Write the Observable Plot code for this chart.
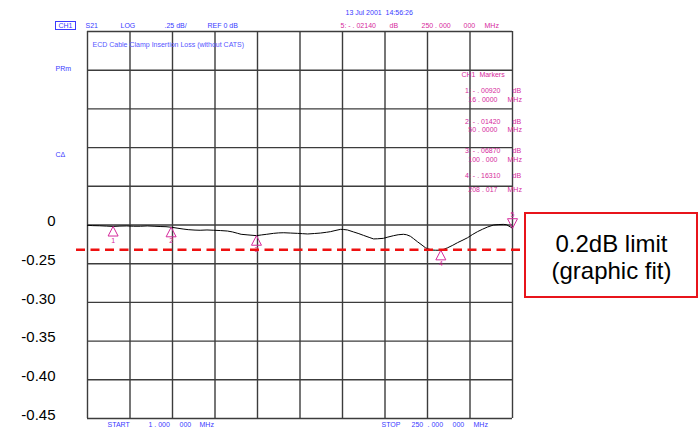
<!DOCTYPE html>
<html><head><meta charset="utf-8">
<script src="https://cdn.jsdelivr.net/npm/d3@7"></script>
<script src="https://cdn.jsdelivr.net/npm/@observablehq/plot@0.6"></script>
<style>html,body{margin:0;padding:0;background:#fff;}</style>
</head><body><div id="chart"></div>
<script>
// ---- data ----
const traceFreq = [1,4,8,12,16,20,24,28,32,36,40,44,47,50,54,57,60,64,67,71,75,79,83,86,89,91,95,100,103,106,110,113,116,120,124,127,130,134,137.5,141,143.4,146,149.3,151,153.3,156.9,160,162.7,166,168.6,171,174.4,177,180.3,183,186.1,188,190.2,192,194.3,197,199,201,203.1,205,208,210,212,215,217.8,221,223.7,226.5,229.5,232.5,235.4,238.9,242,244.7,246.5,247.7,249,250];
const traceDb = [-0.002,-0.004,-0.005,-0.007,-0.0092,-0.007,-0.006,-0.008,-0.008,-0.006,-0.008,-0.010,-0.011,-0.0142,-0.021,-0.026,-0.030,-0.033,-0.034,-0.032,-0.034,-0.036,-0.039,-0.045,-0.054,-0.060,-0.064,-0.0687,-0.064,-0.060,-0.054,-0.051,-0.050,-0.052,-0.054,-0.056,-0.058,-0.055,-0.052,-0.047,-0.043,-0.036,-0.028,-0.029,-0.032,-0.045,-0.056,-0.067,-0.080,-0.090,-0.089,-0.086,-0.078,-0.069,-0.063,-0.060,-0.063,-0.073,-0.088,-0.108,-0.130,-0.147,-0.156,-0.162,-0.163,-0.1631,-0.156,-0.147,-0.131,-0.114,-0.097,-0.082,-0.062,-0.043,-0.027,-0.013,0.000,0.003,0.004,0.002,-0.006,-0.014,-0.0214];
const markerFreq = [16, 50, 100, 208.017, 250];
const markerDb = [-0.0092, -0.0142, -0.0687, -0.1631, -0.0214];
const markerNum = ["1","2","3","4","5"];
const markerDbText = ["1: - . 00920","2: - . 01420","3: - . 06870","4: - . 16310"];
const markerMHzText = ["16 . 0000","50 . 0000","100 . 000","208 . 017"];
const yTickValues = [0, -0.25, -0.5, -0.75, -1, -1.25];
const yTickLabels = ["0","-0.25","-0.30","-0.35","-0.40","-0.45"];
const limitDb = -0.16;
const limitText = ["0.2dB limit", "(graphic fit)"];
const startFreq = 1, stopFreq = 250, dbPerDiv = 0.25, divisions = 10;
const headerTexts = ["CH1","S21","LOG",".25 dB/","REF 0 dB"];
const stimTexts = ["5: - . 02140","dB","250 . 000","000","MHz"];
const startTexts = ["START","1 . 000","000","MHz"];
const stopTexts = ["STOP","250",". 000","000","MHz"];
const dateText = "13 Jul 2001  14:56:26";
const titleText = "ECD Cable Clamp Insertion Loss (without CATS)";

// ---- layout ----
const W = 699, H = 429, ML = 87, MR = 187, MT = 31, MB = 11;
const BLUE = "#3a3aff", MAG = "#d62a9c", GRID = "#3c3c3c";
const FONT = "Liberation Sans, Arial, Helvetica, sans-serif";

const trace = traceFreq.map((f, i) => ({f, db: traceDb[i]}));
const markers = markerFreq.map((f, i) => ({f, db: markerDb[i], n: markerNum[i]}));
const xGrid = d3.range(divisions + 1).map(i => startFreq + i * (stopFreq - startFreq) / divisions);
const yGrid = d3.range(divisions + 1).map(i => -dbPerDiv * divisions / 2 + i * dbPerDiv);

const at = (text, x, y, o = {}) => Plot.text([text], {
  frameAnchor: "top-left", dx: x - ML, dy: y - MT, textAnchor: "start", lineAnchor: "middle",
  fontSize: 7, fill: BLUE, ...o
});

const upTri = {draw(ctx, size) { const r = Math.sqrt(size / Math.PI); const w = 1.25 * r, h = 2.4 * r;
  ctx.moveTo(0, 0); ctx.lineTo(w, h); ctx.lineTo(-w, h); ctx.closePath(); }};
const downTri = {draw(ctx, size) { const r = Math.sqrt(size / Math.PI); const w = 1.25 * r, h = 2.4 * r;
  ctx.moveTo(0, 0); ctx.lineTo(w, -h); ctx.lineTo(-w, -h); ctx.closePath(); }};

const box = (x, y, w, h, stroke, sw, fill) => () => d3.create("svg:rect").attr("x", x).attr("y", y)
  .attr("width", w).attr("height", h).attr("fill", fill).attr("stroke", stroke).attr("stroke-width", sw).node();

const chart = Plot.plot({
  width: W, height: H, marginLeft: ML, marginRight: MR, marginTop: MT, marginBottom: MB,
  x: {domain: [startFreq, stopFreq], axis: null},
  y: {domain: [-dbPerDiv * divisions / 2, dbPerDiv * divisions / 2], axis: null},
  style: {fontFamily: FONT, background: "white", overflow: "visible"},
  marks: [
    Plot.ruleX(xGrid, {stroke: GRID, strokeWidth: 1.4}),
    Plot.ruleY(yGrid, {stroke: GRID, strokeWidth: 1.4}),
    Plot.line(trace, {x: "f", y: "db", stroke: "black", strokeWidth: 1}),
    Plot.dot(markers.slice(0, 4), {x: "f", y: "db", symbol: upTri, r: 4, stroke: MAG, strokeWidth: 1, fill: "none"}),
    Plot.dot(markers.slice(4), {x: "f", y: "db", symbol: downTri, r: 4, stroke: MAG, strokeWidth: 1, fill: "none"}),
    Plot.text(markers.slice(0, 4), {x: "f", y: "db", text: "n", dy: 14, fill: MAG, fontSize: 7}),
    Plot.text(markers.slice(4), {x: "f", y: "db", text: "n", dy: -14, fill: MAG, fontSize: 7}),
    Plot.ruleY([limitDb], {stroke: "#ee1111", strokeWidth: 2.5, strokeDasharray: "9,5.5", insetLeft: -11, insetRight: -13}),
    Plot.text(yTickValues, {y: d => d, text: (d, i) => yTickLabels[i], frameAnchor: "left", dx: -32, dy: -3.5,
      textAnchor: "end", fontSize: 15, fill: "black"}),
    // annotation box
    box(525, 213, 172, 84, "#e8141b", 2, "white"),
    at(limitText[0], 611, 244, {textAnchor: "middle", fontSize: 24, fill: "black"}),
    at(limitText[1], 611, 271, {textAnchor: "middle", fontSize: 24, fill: "black"}),
    // header
    box(55.5, 21.5, 20, 8, BLUE, 1, "none"),
    at(headerTexts[0], 58, 25.5),
    at(headerTexts[1], 85, 25.5),
    at(headerTexts[2], 120, 25.5),
    at(headerTexts[3], 164, 25.5),
    at(headerTexts[4], 207, 25.5),
    at(stimTexts[0], 340, 25.5, {fill: MAG}),
    at(stimTexts[1], 389, 25.5, {fill: MAG}),
    at(stimTexts[2], 421, 25.5, {fill: MAG}),
    at(stimTexts[3], 463, 25.5, {fill: MAG}),
    at(stimTexts[4], 484, 25.5, {fill: MAG}),
    at(dateText, 345, 12),
    at("(", 251, -16, {fontSize: 24, fill: "black"}),
    at(")", 577, -16, {fontSize: 24, fill: "black"}),
    at(titleText, 92, 44, {fill: "#5555ff"}),
    at("PRm", 55, 68),
    at("CΔ", 55, 154),
    // marker panel
    at("CH1  Markers", 461, 74, {fill: MAG}),
    ...[90, 121, 150, 175].map((y, i) => at(markerDbText[i], 500, y, {fill: MAG, textAnchor: "end"})),
    ...[90, 121, 150, 175].map(y => at("dB", 512, y, {fill: MAG})),
    ...[99, 129, 159, 189].map((y, i) => at(markerMHzText[i], 497, y, {fill: MAG, textAnchor: "end"})),
    ...[99, 129, 159, 189].map(y => at("MHz", 507, y, {fill: MAG})),
    // footer
    at(startTexts[0], 107, 424.5), at(startTexts[1], 148, 424.5), at(startTexts[2], 179, 424.5), at(startTexts[3], 199, 424.5),
    at(stopTexts[0], 381, 424.5), at(stopTexts[1], 411, 424.5), at(stopTexts[2], 427, 424.5), at(stopTexts[3], 452, 424.5), at(stopTexts[4], 473, 424.5)
  ]
});
document.getElementById("chart").appendChild(chart);
</script>
</body></html>
